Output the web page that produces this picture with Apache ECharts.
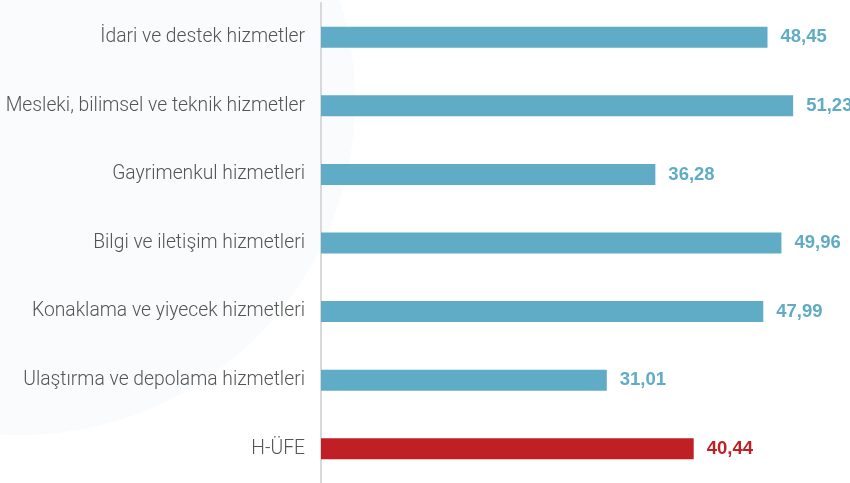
<!DOCTYPE html>
<html>
<head>
<meta charset="utf-8">
<script src="https://cdn.jsdelivr.net/npm/echarts@6/dist/echarts.min.js"></script>
<style>
    html, body { margin: 0; padding: 0; background: #fff; }
    #chart { width: 850px; height: 483px; }
</style>
</head>
<body>
<div id="chart"></div>
<script>
    // sektörler ve değerler
    var categories = [
        'İdari ve destek hizmetler',
        'Mesleki, bilimsel ve teknik hizmetler',
        'Gayrimenkul hizmetleri',
        'Bilgi ve iletişim hizmetleri',
        'Konaklama ve yiyecek hizmetleri',
        'Ulaştırma ve depolama hizmetleri',
        'H-ÜFE'
    ]
    var values = [48.45, 51.23, 36.28, 49.96, 47.99, 31.01, 40.44]
    var highlight = 'H-ÜFE'

    var blue = '#60acc6'
    var red = '#c01f26'

    var myChart = echarts.init(document.getElementById('chart'))
    var option = {
        animation: false,
        backgroundColor: '#fff',
        // soluk filigran
        graphic: [
            {
                type: 'circle',
                z: -10,
                silent: true,
                shape: { cx: 20, cy: 100, r: 335 },
                style: { fill: '#f9fbfc' }
            }
        ],
        grid: {
            left: 321,
            right: 0,
            top: 3,
            bottom: 0
        },
        xAxis: {
            type: 'value',
            min: 0,
            max: 57.4,
            show: false
        },
        yAxis: {
            type: 'category',
            inverse: true,
            data: categories,
            axisLine: { show: true, lineStyle: { color: '#d9d9d9', width: 2 } },
            axisTick: { show: false },
            axisLabel: {
                margin: 16,
                color: '#555',
                fontSize: 19.3,
                fontWeight: 300,
                fontFamily: 'Roboto'
            }
        },
        series: [
            {
                type: 'bar',
                barWidth: 21,
                data: values.map(function (v, i) {
                    var c = categories[i] === highlight ? red : blue
                    return {
                        value: v,
                        itemStyle: { color: c },
                        label: { color: c }
                    }
                }),
                label: {
                    show: true,
                    position: 'right',
                    distance: 13,
                    fontSize: 18.5,
                    fontWeight: 'bold',
                    fontFamily: 'Liberation Sans',
                    formatter: function (p) {
                        return p.value.toFixed(2).replace('.', ',')
                    }
                }
            }
        ]
    }
    myChart.setOption(option)
</script>
</body>
</html>
